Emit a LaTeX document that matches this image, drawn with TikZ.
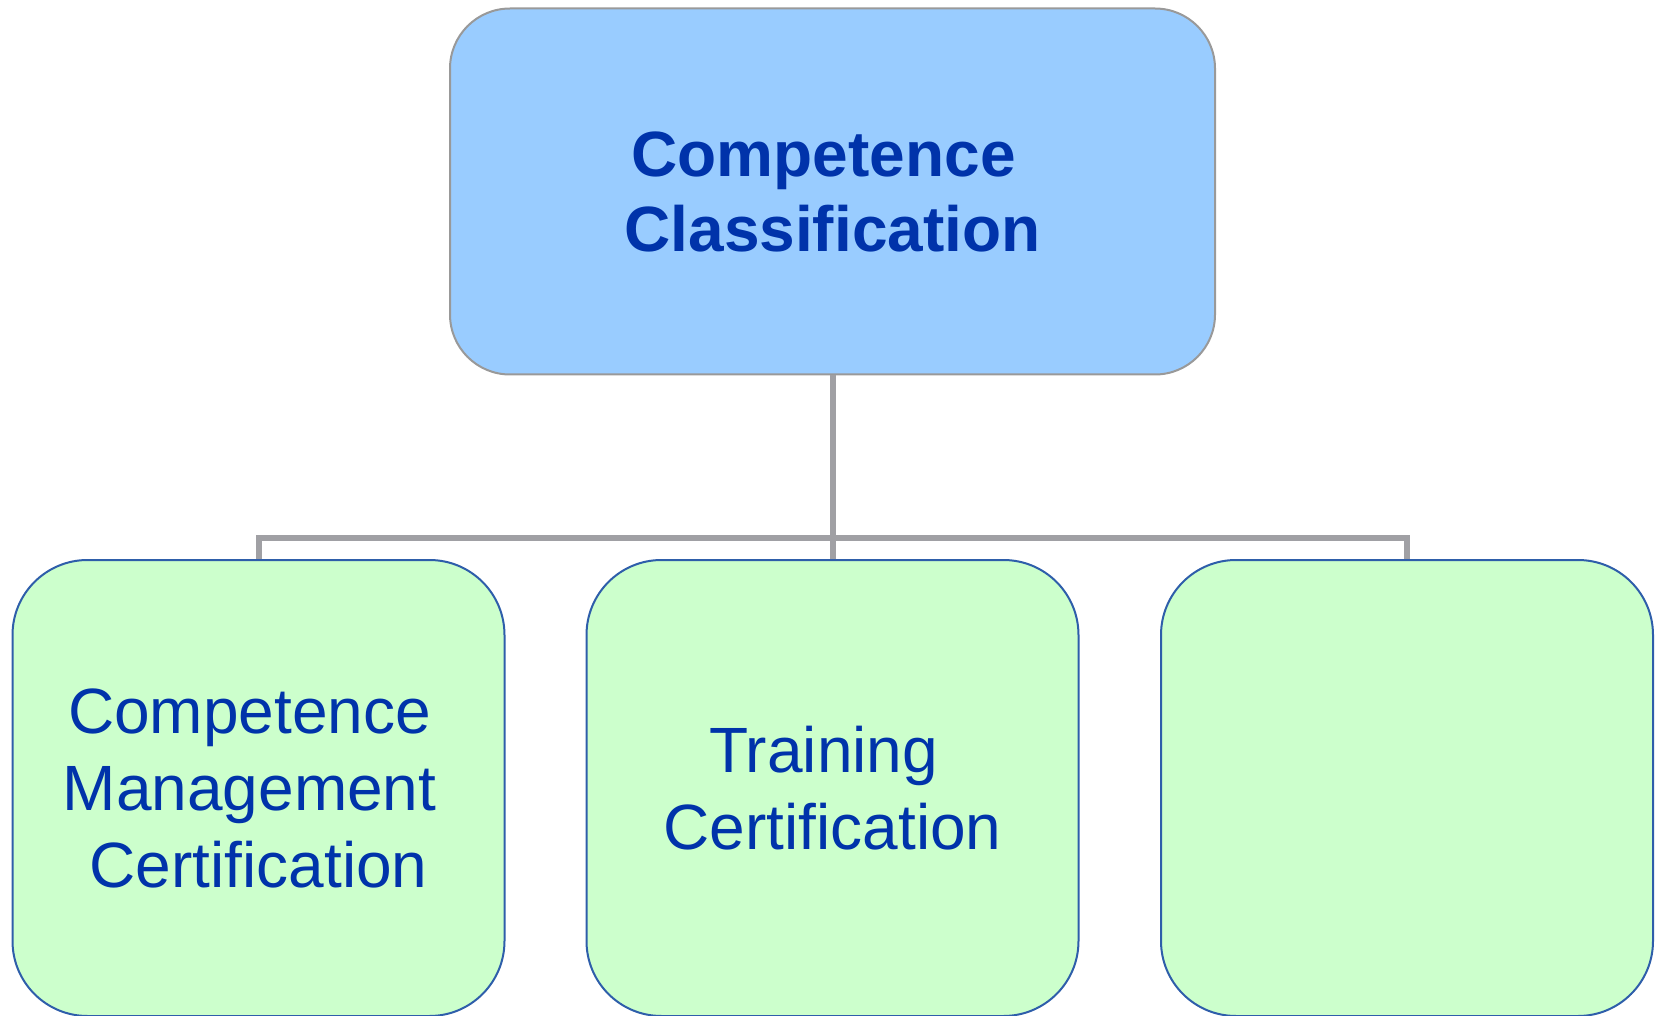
\documentclass[tikz,border=0pt]{standalone}
\usepackage{fontspec}
\setmainfont{Liberation Sans}
\definecolor{topfill}{HTML}{99CCFF}
\definecolor{topdraw}{HTML}{999999}
\definecolor{txt}{HTML}{0033AA}
\definecolor{botfill}{HTML}{CCFFCC}
\definecolor{botdraw}{HTML}{2E5EAA}
\definecolor{conn}{HTML}{A0A0A4}
\newcommand{\trsp}{\rule{0.278em}{0pt}}
\tikzset{
  topbox/.style={rectangle, rounded corners=60pt, fill=topfill, draw=topdraw, line width=2pt,
    minimum width=765pt, minimum height=366pt, inner sep=0pt, align=center, text=txt,
    font=\fontsize{64}{75}\selectfont\bfseries},
  botbox/.style={rectangle, rounded corners=75pt, fill=botfill, draw=botdraw, line width=2pt,
    minimum width=492pt, minimum height=456pt, inner sep=0pt, align=center, text=txt,
    font=\fontsize{64}{77}\selectfont},
  connector/.style={draw=conn, line width=6pt}
}
\begin{document}
\begin{tikzpicture}[x=1pt,y=-1pt]
\useasboundingbox (0,0) rectangle (1658,1016);
\node[topbox] (top) at (832.5,191.5) {Competence\trsp\\Classification};
\node[botbox] (b1) at (258.5,788) {Competence\trsp\\Management\trsp\\Certification};
\node[botbox] (b2) at (832.5,788) {Training\trsp\\Certification};
\node[botbox] (b3) at (1407,788) {};
\coordinate (j) at (832.5,538);
\draw[connector] (top.south) -- (j);
\draw[connector] (j) -| (b1.north);
\draw[connector] (j) -| (b3.north);
\draw[connector] (j) -- (b2.north);
\end{tikzpicture}
\end{document}
